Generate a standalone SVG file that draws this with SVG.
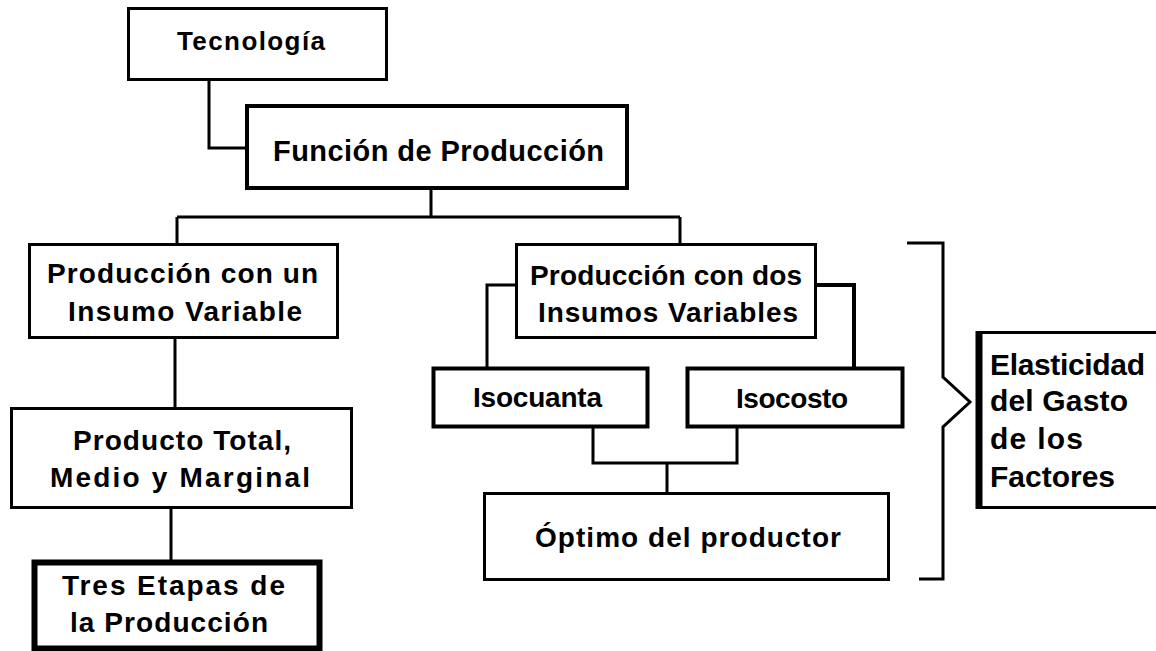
<svg xmlns="http://www.w3.org/2000/svg" width="1156" height="651" viewBox="0 0 1156 651">
<style>
.box{fill:#fff;stroke:#000;stroke-width:3}
.t{font-family:"Liberation Sans",Arial,sans-serif;font-weight:bold;font-size:28px;fill:#000}
.c{fill:none;stroke:#000;stroke-width:3}
</style>
<rect width="1156" height="651" fill="#fff"/>
<g id="connectors">
<path class="c" d="M209,80 V148 H245"/>
<path class="c" d="M431,189 V217"/>
<path class="c" d="M177,217 H680"/>
<path class="c" d="M177,217 V243"/>
<path class="c" d="M680,217 V243"/>
<path class="c" d="M175,338 V407"/>
<path class="c" d="M171,508 V560"/>
<path class="c" d="M515,285 H487 V367"/>
<path class="c" d="M816,285 H854 V367" style="stroke-width:4"/>
<path class="c" d="M593,427 V463 H737 V427"/>
<path class="c" d="M667,463 V492"/>
<path class="c" d="M907,243 H943 V377 L970,402 L943,427 V579 H919"/>
</g>
<g id="tecnologia">
<rect class="box" x="128.5" y="8.5" width="258" height="71"/>
<text class="t" x="177" y="50" style="font-size:26px" textLength="148" lengthAdjust="spacing">Tecnología</text>
</g>
<g id="funcion">
<rect class="box" x="247" y="106" width="380" height="82" style="stroke-width:4"/>
<text class="t" x="273" y="161" style="font-size:29px" textLength="331" lengthAdjust="spacing">Función de Producción</text>
</g>
<g id="un-insumo">
<rect class="box" x="29.5" y="244.5" width="308" height="93"/>
<text class="t" x="47" y="283" textLength="271" lengthAdjust="spacing">Producción con un</text>
<text class="t" x="68" y="321" textLength="234" lengthAdjust="spacing">Insumo Variable</text>
</g>
<g id="producto">
<rect class="box" x="11.5" y="408.5" width="340" height="99"/>
<text class="t" x="73" y="450" textLength="218" lengthAdjust="spacing">Producto Total,</text>
<text class="t" x="50" y="487" textLength="260" lengthAdjust="spacing">Medio y Marginal</text>
</g>
<g id="tres-etapas">
<rect class="box" x="34.5" y="562.5" width="285" height="86" style="stroke-width:6"/>
<text class="t" x="62" y="595" textLength="223" lengthAdjust="spacing">Tres Etapas de</text>
<text class="t" x="70" y="632" textLength="198" lengthAdjust="spacing">la Producción</text>
</g>
<g id="dos-insumos">
<rect class="box" x="516.5" y="244.5" width="299" height="93"/>
<text class="t" x="530" y="285" textLength="272" lengthAdjust="spacing">Producción con dos</text>
<text class="t" x="538" y="322" textLength="260" lengthAdjust="spacing">Insumos Variables</text>
</g>
<g id="isocuanta">
<rect class="box" x="433.5" y="368.5" width="214" height="58" style="stroke-width:4"/>
<text class="t" x="473" y="407" textLength="129" lengthAdjust="spacing">Isocuanta</text>
</g>
<g id="isocosto">
<rect class="box" x="687.5" y="368.5" width="215" height="58" style="stroke-width:4"/>
<text class="t" x="736" y="408" textLength="112" lengthAdjust="spacing">Isocosto</text>
</g>
<g id="optimo">
<rect class="box" x="484.5" y="493.5" width="404" height="86"/>
<text class="t" x="535" y="547" textLength="306" lengthAdjust="spacing">Óptimo del productor</text>
</g>
<g id="elasticidad">
<rect class="box" x="979.5" y="332.5" width="200" height="175"/>
<path d="M979,331 V509" stroke="#000" stroke-width="7"/>
<text class="t" x="990" y="375" style="font-size:30px" textLength="155" lengthAdjust="spacing">Elasticidad</text>
<text class="t" x="990" y="411" style="font-size:30px" textLength="138" lengthAdjust="spacing">del Gasto</text>
<text class="t" x="990" y="449" style="font-size:30px" textLength="93" lengthAdjust="spacing">de los</text>
<text class="t" x="990" y="487" style="font-size:30px" textLength="125" lengthAdjust="spacing">Factores</text>
</g>
</svg>
